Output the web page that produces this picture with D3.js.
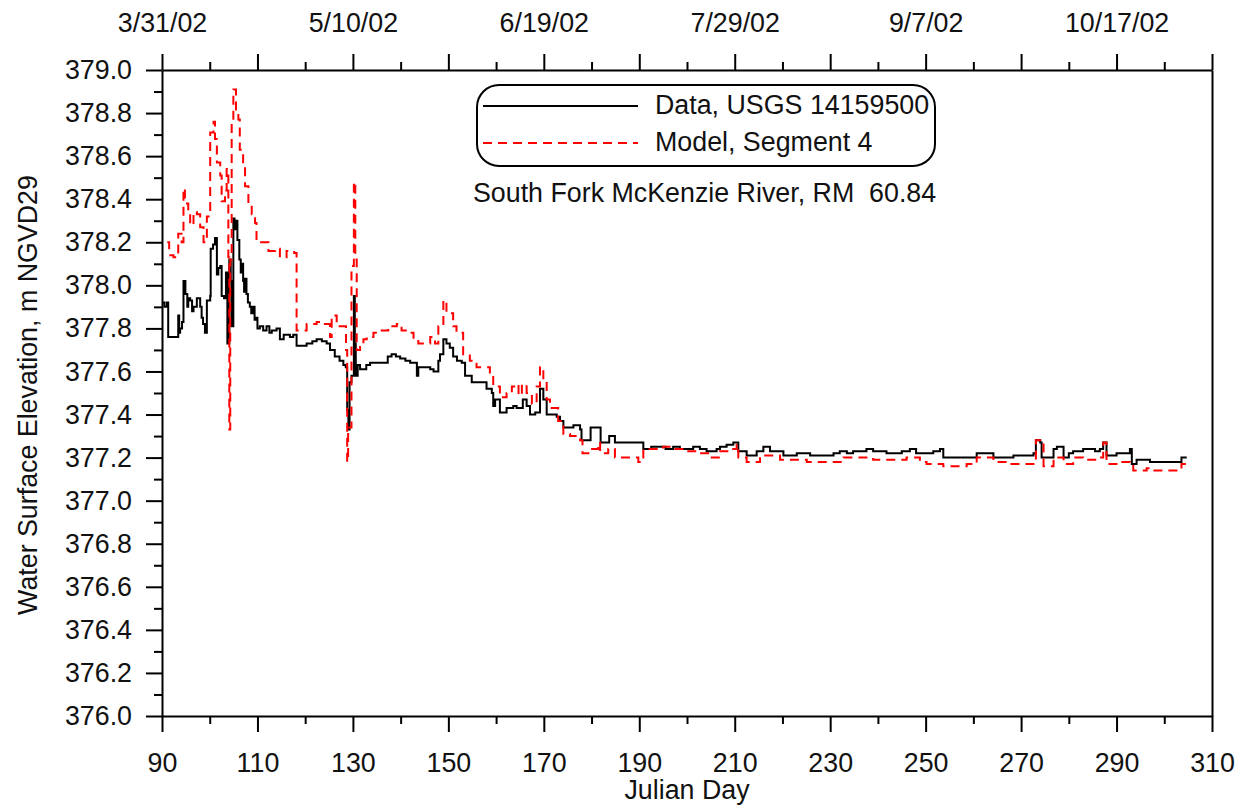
<!DOCTYPE html>
<html><head><meta charset="utf-8">
<script src="https://cdn.jsdelivr.net/npm/d3@7"></script>
<style>body{margin:0;background:#fff} text{font-family:Arial,"Liberation Sans",sans-serif}</style>
</head><body><svg id="c" width="1245" height="810"></svg><script>
// ---- data ----
const dataDay = [90.0,90.5,91.0,91.3,93.4,93.6,93.8,94.2,94.5,94.9,95.3,95.5,95.9,96.3,96.6,97.3,98.0,98.3,98.6,99.0,99.4,100.1,100.2,100.7,101.1,101.5,101.8,102.2,102.5,103.0,103.4,103.7,104.1,104.4,104.6,104.95,105.2,105.5,105.8,106.2,106.5,106.7,107.0,107.2,107.4,107.7,108.0,108.4,108.7,109.1,109.4,109.7,110.0,110.5,111.2,111.9,112.5,113.0,114.0,114.7,115.5,116.8,117.5,118.2,120.3,121.5,122.4,123.5,124.5,125.2,126.2,127.2,128.0,128.5,128.8,129.05,129.3,129.7,130.2,130.4,130.6,131.0,131.5,132.2,132.8,133.6,136.4,137.3,138.1,139.0,139.9,141.0,142.0,143.4,143.7,145.0,146.2,146.9,147.9,148.25,148.95,149.6,150.3,151.0,151.8,152.8,153.5,154.9,156.6,158.0,159.1,159.4,159.8,160.8,162.2,163.6,164.3,165.6,166.4,167.1,168.2,169.2,169.9,170.6,172.7,173.4,174.1,176.2,177.6,177.9,179.8,181.9,183.7,184.9,186.7,188.8,189.5,190.85,192.5,194.3,195.5,197.1,198.5,199.9,201.3,202.7,204.1,206.2,206.9,208.3,209.7,210.4,210.75,212.5,214.6,216.0,217.4,220.2,223.0,225.8,230.0,230.7,232.0,233.5,234.8,236.2,237.6,239.0,240.4,241.8,243.2,245.0,246.7,248.0,249.5,251.6,253.0,253.7,258.6,260.7,263.5,264.2,268.4,272.6,273.1,274.0,274.3,275.4,276.8,277.5,278.9,280.0,280.9,283.0,284.4,285.5,286.5,287.2,287.9,290.0,292.1,292.8,293.2,294.2,296.3,297.0,303.6,304.7];
const dataElev = [377.92,377.90,377.92,377.76,377.86,377.78,377.80,377.83,378.02,377.96,377.90,377.94,377.93,377.88,377.90,377.94,377.90,377.85,377.82,377.78,377.93,377.95,378.17,378.19,378.22,378.05,378.08,378.09,377.95,377.94,378.06,377.73,378.12,378.02,377.81,378.31,378.26,378.30,378.21,378.12,378.06,378.10,378.02,377.97,378.03,377.96,377.92,377.90,377.87,377.90,377.84,377.85,377.80,377.81,377.79,377.81,377.78,377.79,377.80,377.75,377.77,377.76,377.77,377.72,377.73,377.74,377.75,377.74,377.73,377.70,377.67,377.65,377.63,377.62,377.42,377.33,377.55,377.58,377.95,377.73,377.58,377.63,377.61,377.61,377.63,377.64,377.64,377.67,377.68,377.67,377.66,377.65,377.64,377.58,377.62,377.62,377.61,377.60,377.65,377.68,377.75,377.73,377.71,377.67,377.65,377.64,377.58,377.55,377.55,377.52,377.50,377.44,377.47,377.41,377.43,377.44,377.43,377.47,377.44,377.40,377.41,377.52,377.47,377.40,377.39,377.37,377.34,377.35,377.33,377.28,377.34,377.27,377.30,377.27,377.27,377.27,377.27,377.24,377.25,377.25,377.24,377.25,377.24,377.24,377.25,377.24,377.23,377.24,377.25,377.26,377.27,377.27,377.23,377.21,377.23,377.25,377.23,377.21,377.22,377.21,377.21,377.22,377.23,377.22,377.23,377.23,377.24,377.23,377.23,377.22,377.22,377.23,377.24,377.22,377.22,377.23,377.24,377.20,377.20,377.22,377.22,377.20,377.21,377.22,377.28,377.27,377.20,377.20,377.24,377.25,377.20,377.22,377.23,377.24,377.24,377.23,377.24,377.27,377.21,377.22,377.22,377.24,377.17,377.19,377.19,377.18,377.20,377.20];

const modelDay = [91.1,91.5,92.4,93.1,93.4,94.1,94.5,94.8,95.5,95.9,96.6,97.3,98.0,98.7,99.4,100.1,100.8,101.1,101.5,102.2,102.5,103.2,103.55,103.9,104.1,104.3,104.6,104.95,105.5,106.0,106.3,107.0,107.4,108.1,108.8,109.5,109.8,110.9,112.3,113.7,114.7,116.1,117.7,118.2,120.3,122.4,123.8,125.2,125.55,126.6,128.0,128.55,128.8,129.0,129.7,130.2,130.5,130.8,131.5,132.2,132.9,134.3,135.7,137.4,139.2,140.2,141.3,142.7,143.7,145.1,146.2,147.2,147.9,148.95,149.6,151.0,151.7,153.1,154.5,155.9,157.3,158.7,159.4,160.8,162.2,163.3,164.3,164.7,165.4,166.4,167.5,168.5,169.2,169.9,170.6,171.3,172.7,173.0,174.1,175.5,177.6,178.1,179.7,181.4,181.8,183.5,184.9,187.4,189.8,190.85,193.0,195.0,197.1,199.9,202.7,204.8,206.9,209.0,210.4,210.75,212.5,215.3,216.7,219.5,222.3,225.1,229.3,232.8,236.2,239.0,241.8,246.0,248.8,250.2,253.7,258.6,260.7,264.2,267.0,269.8,272.6,273.1,274.0,274.7,276.8,278.9,280.9,283.0,285.8,287.2,287.9,290.7,292.8,293.5,296.3,297.0,303.3,303.6,304.7];
const modelElev = [378.20,378.14,378.13,378.13,378.24,378.20,378.45,378.38,378.33,378.28,378.34,378.33,378.27,378.20,378.32,378.71,378.76,378.68,378.57,378.51,378.39,378.44,378.54,378.13,377.33,378.12,378.75,378.91,378.81,378.77,378.63,378.55,378.46,378.38,378.33,378.29,378.20,378.20,378.16,378.17,378.13,378.16,378.15,377.79,377.82,377.83,377.82,377.76,377.86,377.81,377.81,377.70,377.18,377.34,378.09,378.48,378.12,377.70,377.73,377.75,377.76,377.78,377.79,377.81,377.82,377.79,377.78,377.75,377.73,377.73,377.76,377.73,377.81,377.93,377.87,377.81,377.78,377.68,377.65,377.62,377.62,377.58,377.53,377.48,377.50,377.53,377.54,377.49,377.54,377.50,377.45,377.53,377.62,377.56,377.47,377.43,377.43,377.37,377.31,377.30,377.28,377.22,377.24,377.27,377.22,377.24,377.20,377.20,377.18,377.24,377.24,377.25,377.24,377.23,377.22,377.20,377.23,377.24,377.26,377.20,377.18,377.21,377.21,377.19,377.19,377.18,377.18,377.20,377.20,377.19,377.19,377.20,377.18,377.17,377.16,377.17,377.20,377.18,377.17,377.17,377.17,377.28,377.27,377.16,377.20,377.17,377.20,377.19,377.20,377.27,377.17,377.18,377.17,377.14,377.15,377.14,377.14,377.17,377.17];

const xMajor = [90,110,130,150,170,190,210,230,250,270,290,310];
const xMinor = [100,120,140,160,180,200,220,240,260,280,300];
const dateLabelDays = [90,130,170,210,250,290];
const yMajor = [376.0,376.2,376.4,376.6,376.8,377.0,377.2,377.4,377.6,377.8,378.0,378.2,378.4,378.6,378.8,379.0];
const yMinor = [376.1,376.3,376.5,376.7,376.9,377.1,377.3,377.5,377.7,377.9,378.1,378.3,378.5,378.7,378.9];
const legendLabels = ["Data, USGS 14159500","Model, Segment 4"];
const subtitle = "South Fork McKenzie River, RM  60.84";
const xTitle = "Julian Day";
const yTitle = "Water Surface Elevation, m NGVD29";

// ---- drawing ----
const svg = d3.select("#c");
const L=162,R=1212,T=70,B=716;
const x = d3.scaleLinear().domain([90,310]).range([L,R]);
const y = d3.scaleLinear().domain([376,379]).range([B,T]);
const FS = 26.8;

function styleAxis(g){
  g.selectAll("path,line").attr("stroke","#000").attr("stroke-width",2);
  g.selectAll("text").attr("font-size",FS).attr("fill","#111").attr("font-family","Arial, 'Liberation Sans', sans-serif");
}

// bottom
svg.append("g").attr("transform",`translate(0,${B})`)
  .call(d3.axisBottom(x).tickValues(xMajor).tickSize(16).tickSizeOuter(0).tickPadding(21).tickFormat(d3.format("d")))
  .call(styleAxis);
svg.append("g").attr("transform",`translate(0,${B})`)
  .call(d3.axisBottom(x).tickValues(xMinor).tickSize(8).tickFormat(""))
  .call(g=>g.select(".domain").remove()).call(styleAxis);

// top
const fmtDate = d=>{const dt=new Date(2002,0,d);return `${dt.getMonth()+1}/${dt.getDate()}/02`;};
svg.append("g").attr("transform",`translate(0,${T})`)
  .call(d3.axisTop(x).tickValues(xMajor).tickSize(16).tickSizeOuter(0).tickPadding(22)
    .tickFormat(d=>dateLabelDays.includes(d)?fmtDate(d):""))
  .call(styleAxis);
svg.append("g").attr("transform",`translate(0,${T})`)
  .call(d3.axisTop(x).tickValues(xMinor).tickSize(8).tickFormat(""))
  .call(g=>g.select(".domain").remove()).call(styleAxis);

// left
svg.append("g").attr("transform",`translate(${L},0)`)
  .call(d3.axisLeft(y).tickValues(yMajor).tickSize(16).tickSizeOuter(0).tickPadding(14).tickFormat(d3.format(".1f")))
  .call(styleAxis);
svg.append("g").attr("transform",`translate(${L},0)`)
  .call(d3.axisLeft(y).tickValues(yMinor).tickSize(8).tickFormat(""))
  .call(g=>g.select(".domain").remove()).call(styleAxis);

// right
svg.append("g").attr("transform",`translate(${R},0)`)
  .call(d3.axisRight(y).tickValues([]).tickSizeOuter(0))
  .call(styleAxis);

// lines
const line = d3.line().x(d=>x(d[0])).y(d=>y(d[1])).curve(d3.curveStepAfter);
const dataPts = dataDay.map((d,i)=>[d,dataElev[i]]);
const modelPts = modelDay.map((d,i)=>[d,modelElev[i]]);
svg.append("path").datum(dataPts).attr("d",line).attr("fill","none").attr("stroke","#000").attr("stroke-width",2);
svg.append("path").datum(modelPts).attr("d",line).attr("fill","none").attr("stroke","#ff0000").attr("stroke-width",2).attr("stroke-dasharray","9,6");

// legend
const lg = svg.append("g");
lg.append("rect").attr("x",477).attr("y",85).attr("width",458).attr("height",81).attr("rx",22).attr("ry",22)
  .attr("fill","#fff").attr("stroke","#000").attr("stroke-width",2);
lg.append("line").attr("x1",483).attr("x2",638).attr("y1",106).attr("y2",106).attr("stroke","#000").attr("stroke-width",2);
lg.append("line").attr("x1",483).attr("x2",638).attr("y1",143).attr("y2",143).attr("stroke","#ff0000").attr("stroke-width",2).attr("stroke-dasharray","9,6");
lg.append("text").attr("x",655).attr("y",114).attr("font-size",FS).attr("fill","#111").text(legendLabels[0]);
lg.append("text").attr("x",655).attr("y",151).attr("font-size",FS).attr("fill","#111").text(legendLabels[1]);
svg.append("text").attr("x",473).attr("y",202).attr("font-size",FS).attr("fill","#111").attr("xml:space","preserve").style("white-space","pre").text(subtitle);

// titles
svg.append("text").attr("x",(L+R)/2).attr("y",799).attr("text-anchor","middle").attr("font-size",FS).attr("fill","#111").text(xTitle);
svg.append("text").attr("transform","translate(37,395) rotate(-90)").attr("text-anchor","middle").attr("font-size",FS).attr("fill","#111").text(yTitle);
</script></body></html>
